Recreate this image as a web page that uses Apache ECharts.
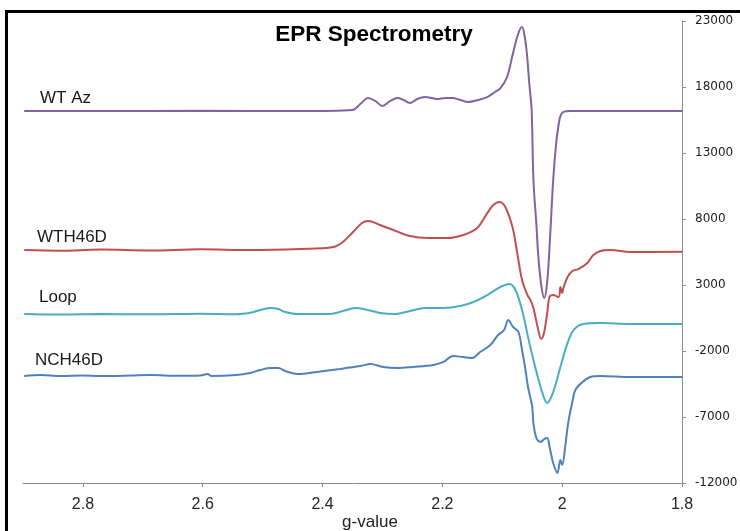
<!DOCTYPE html>
<html>
<head>
<meta charset="utf-8">
<script src="https://cdn.jsdelivr.net/npm/echarts@6.0.0/dist/echarts.min.js"></script>
<style>
html,body{margin:0;padding:0;background:#fff;overflow:hidden;}
#chart{width:740px;height:531px;}
</style>
</head>
<body>
<div id="chart"></div>
<script>
// ---- data (g-value, intensity) ----
var seriesNames = ['WT Az', 'WTH46D', 'Loop', 'NCH46D'];
var xTickValues = [1.8, 2.0, 2.2, 2.4, 2.6, 2.8];
var yTickValues = [-12000, -7000, -2000, 3000, 8000, 13000, 18000, 23000];

var wtAz = [
  [2.898,16180],[2.771,16180],[2.604,16200],[2.437,16180],[2.350,16260],[2.337,16710],[2.324,17170],
  [2.312,16940],[2.300,16560],[2.287,16940],[2.275,17170],[2.265,17020],[2.254,16790],[2.242,17090],
  [2.229,17240],[2.217,17170],[2.209,17090],[2.195,17170],[2.183,17170],[2.170,17020],[2.157,16860],
  [2.140,17020],[2.125,17240],[2.112,17620],[2.103,17920],[2.092,18760],[2.082,20580],[2.073,22090],
  [2.067,22550],[2.063,21940],[2.059,20580],[2.055,18300],[2.051,16260],[2.048,10960],[2.043,7550],
  [2.040,5270],[2.035,3000],[2.030,2020],[2.025,3230],[2.020,6790],[2.015,10960],[2.010,13760],
  [2.006,15120],[2.003,15800],[1.998,16110],[1.986,16180],[1.8,16180]
];

var wtH46D = [
  [2.898,5650],[2.838,5600],[2.771,5680],[2.688,5620],[2.604,5700],[2.521,5650],[2.437,5730],
  [2.382,5880],[2.366,6260],[2.349,7020],[2.334,7700],[2.324,7850],[2.304,7550],[2.282,7170],
  [2.254,6710],[2.225,6560],[2.192,6560],[2.165,6790],[2.142,7320],[2.125,8450],[2.115,9060],
  [2.105,9290],[2.095,8910],[2.083,7390],[2.075,5420],[2.067,3380],[2.058,2240],[2.053,1860],
  [2.048,1260],[2.041,-180],[2.035,-1090],[2.030,-560],[2.025,880],[2.021,2090],[2.015,2240],
  [2.006,2090],[2.003,2850],[2.000,2390],[1.998,2770],[1.991,3610],[1.983,4060],[1.973,4210],
  [1.958,4670],[1.948,5270],[1.936,5580],[1.920,5650],[1.886,5500],[1.8,5520]
];

var loop = [
  [2.898,800],[2.838,760],[2.771,800],[2.688,780],[2.604,820],[2.544,790],[2.521,900],[2.504,1100],
  [2.487,1260],[2.474,1180],[2.462,950],[2.442,800],[2.416,800],[2.387,800],[2.366,1030],
  [2.345,1260],[2.325,1110],[2.304,880],[2.279,800],[2.254,1030],[2.229,1260],[2.198,1260],
  [2.170,1410],[2.148,1710],[2.125,2240],[2.103,2850],[2.088,3080],[2.078,2620],[2.067,1110],
  [2.057,-940],[2.045,-3210],[2.033,-5180],[2.025,-5940],[2.015,-5110],[2.003,-3210],[1.991,-1390],
  [1.981,-410],[1.965,50],[1.936,120],[1.886,50],[1.8,50]
];

var ncH46D = [
  [2.898,-3890],[2.870,-3820],[2.838,-3900],[2.800,-3850],[2.771,-3900],[2.720,-3860],[2.688,-3820],
  [2.640,-3880],[2.604,-3850],[2.592,-3740],[2.585,-3900],[2.544,-3820],[2.521,-3660],[2.504,-3440],
  [2.487,-3290],[2.474,-3290],[2.462,-3520],[2.442,-3750],[2.404,-3550],[2.371,-3360],[2.337,-3140],
  [2.320,-2990],[2.299,-3210],[2.275,-3290],[2.249,-3210],[2.215,-3060],[2.198,-2830],[2.182,-2380],
  [2.165,-2460],[2.150,-2530],[2.137,-2080],[2.120,-1550],[2.107,-790],[2.097,-410],[2.090,350],
  [2.082,-180],[2.073,-560],[2.067,-1920],[2.062,-3210],[2.057,-4730],[2.050,-6240],[2.048,-7460],
  [2.043,-8590],[2.036,-8890],[2.030,-8670],[2.025,-8590],[2.021,-9270],[2.015,-10490],[2.008,-11240],
  [2.003,-10260],[2.000,-10640],[1.995,-9270],[1.990,-7460],[1.983,-5860],[1.978,-4950],[1.966,-4350],
  [1.953,-3970],[1.936,-3890],[1.886,-3970],[1.8,-3970]
];

var seriesData = [wtAz, wtH46D, loop, ncH46D];
var colors = ['#8064A2', '#C0504D', '#4BACC6', '#4F81BD'];

var chart = echarts.init(document.getElementById('chart'), null, {renderer: 'canvas'});

var labelPos = [
  {x: 40, y: 98},
  {x: 37, y: 237},
  {x: 39, y: 297},
  {x: 35, y: 360}
];

var graphics = [
  {type: 'rect', shape: {x: 6.5, y: 11.5, width: 800, height: 600}, style: {fill: null, stroke: '#000', lineWidth: 3}, z: 100, silent: true},
  {type: 'text', x: 374, y: 35, style: {text: 'EPR Spectrometry', font: 'bold 22.5px "Liberation Sans", Arial, sans-serif', fill: '#000', textAlign: 'center', textVerticalAlign: 'middle'}},
  {type: 'text', x: 370, y: 522, style: {text: 'g-value', font: '17px "Liberation Sans", Arial, sans-serif', fill: '#222', textAlign: 'center', textVerticalAlign: 'middle'}}
];
seriesNames.forEach(function (n, i) {
  graphics.push({type: 'text', x: labelPos[i].x, y: labelPos[i].y,
    style: {text: n, font: '17px "Liberation Sans", Arial, sans-serif', fill: '#1a1a1a', textAlign: 'left', textVerticalAlign: 'middle'}});
});

var option = {
  animation: false,
  backgroundColor: '#fff',
  grid: {left: 23, right: 58, top: 21, bottom: 48, containLabel: false, outerBoundsMode: 'none'},
  xAxis: {
    type: 'value', min: 1.8, max: 2.9, interval: 0.2, inverse: true,
    axisLine: {show: true, onZero: false, lineStyle: {color: '#8c8c8c', width: 1}},
    axisTick: {show: true, inside: false, length: 4, customValues: xTickValues, lineStyle: {color: '#8c8c8c'}},
    axisLabel: {customValues: xTickValues, margin: 14, fontSize: 16, fontFamily: '"Liberation Sans", Arial, sans-serif', color: '#262626',
      formatter: function (v) { return String(Math.round(v * 10) / 10); }},
    splitLine: {show: false}
  },
  yAxis: {
    type: 'value', position: 'right', min: -12000, max: 23000, interval: 5000,
    axisLine: {show: true, lineStyle: {color: '#8c8c8c', width: 1}},
    axisTick: {show: true, inside: false, length: 4, customValues: yTickValues, lineStyle: {color: '#8c8c8c'}},
    axisLabel: {customValues: yTickValues, margin: 13, fontSize: 12, fontFamily: '"DejaVu Sans", sans-serif', color: '#222',
      formatter: function (v) { return String(Math.round(v)); }},
    splitLine: {show: false}
  },
  graphic: graphics,
  series: seriesData.map(function (d, i) {
    return {
      name: seriesNames[i], type: 'line', data: d, showSymbol: false, symbol: 'none',
      smooth: 0.35,
      lineStyle: {color: colors[i], width: 2}, itemStyle: {color: colors[i]}, z: 2
    };
  })
};
chart.setOption(option);
</script>
</body>
</html>
